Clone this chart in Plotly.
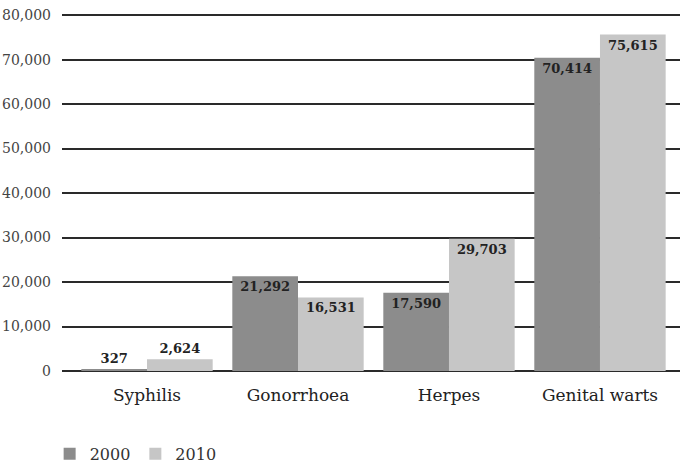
import plotly.graph_objects as go

categories = ["Syphilis", "Gonorrhoea", "Herpes", "Genital warts"]
values_2000 = [327, 21292, 17590, 70414]
values_2010 = [2624, 16531, 29703, 75615]
pos_2000 = ["outside", "inside", "inside", "inside"]
pos_2010 = ["outside", "inside", "inside", "inside"]

font_family = "DejaVu Serif"

fig = go.Figure()
fig.add_trace(go.Bar(
    name="2000", x=categories, y=values_2000,
    marker=dict(color="#8c8c8c", line=dict(width=0)),
    text=[f"{v:,}" for v in values_2000], textposition=pos_2000,
    insidetextanchor="end",
    textfont=dict(family=font_family, size=13, color="#222222", weight="bold"),
    cliponaxis=False,
))
fig.add_trace(go.Bar(
    name="2010", x=categories, y=values_2010,
    marker=dict(color="#c6c6c6", line=dict(width=0)),
    text=[f"{v:,}" for v in values_2010], textposition=pos_2010,
    insidetextanchor="end",
    textfont=dict(family=font_family, size=13, color="#222222", weight="bold"),
    cliponaxis=False,
))

fig.update_layout(
    width=680, height=464,
    margin=dict(l=62, r=0, t=14, b=93, autoexpand=False),
    paper_bgcolor="white", plot_bgcolor="white",
    barmode="group", bargap=0.13, bargroupgap=0,
    font=dict(family=font_family, size=14, color="#333333"),
    showlegend=True,
    legend=dict(orientation="h", x=-0.02, xanchor="left",
                yref="container", y=0.022, yanchor="middle",
                font=dict(size=16, color="#333333"), itemwidth=30),
)
fig.update_xaxes(range=[-0.563, 3.53], showgrid=False, showline=False, ticks="",
                 ticklabelstandoff=12,
                 tickfont=dict(size=17, color="#222222"))
fig.update_yaxes(range=[0, 80250], tickvals=list(range(0, 80001, 10000)),
                 tickformat=",", showgrid=True,
                 gridcolor="#2a2a2a", gridwidth=2, zeroline=True,
                 zerolinecolor="#2a2a2a", zerolinewidth=2, ticks="",
                 ticklabelstandoff=10, tickfont=dict(size=14, color="#444444"))

fig.write_html("out.html")
